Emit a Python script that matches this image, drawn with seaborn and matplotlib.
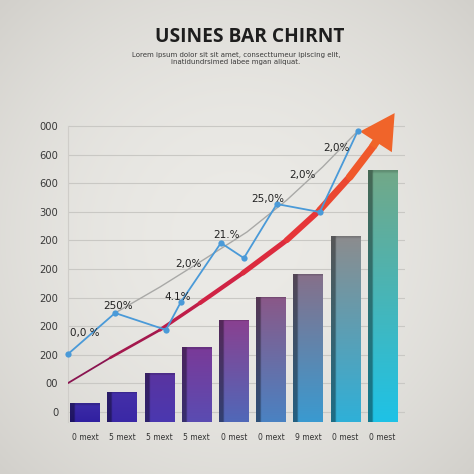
import numpy as np
import pandas as pd
import matplotlib
matplotlib.use("Agg")
import matplotlib.pyplot as plt
import seaborn as sns
from matplotlib.collections import LineCollection
from matplotlib.colors import to_rgb

# ---------------- data ----------------
title = "USINES BAR CHIRNT"
subtitle = ("Lorem ipsum dolor sit sit amet, consecttumeur ipiscing elit,\n"
            "inatidundrsimed labee mgan aliquat.")
x_labels = ["0 mext", "5 mext", "5 mext", "5 mext", "0 mest",
            "0 mext", "9 mext", "0 mest", "0 mest"]
bar_values = [0.66, 1.05, 1.71, 2.62, 3.57, 4.37, 5.17, 6.50, 8.81]
bar_top_colors = ["#3d2ca8", "#4530a8", "#5a34a0", "#7a3a98", "#8a4090",
                  "#8a5888", "#86708a", "#8c8c8e", "#72a888"]
bar_bottom_colors = ["#3020a0", "#3a28a6", "#4a38b0", "#5a4cb2", "#5068b8",
                     "#4a82c2", "#3a9ad0", "#2fb0d8", "#1ec2e6"]

y_tick_labels = ["0", "00", "200", "200", "200", "200", "200",
                 "300", "600", "600", "000"]

line_x = [-0.456, 0.805, 2.174, 2.577, 3.651, 4.268, 5.154, 6.309, 7.329]
line_y = [2.38, 3.81, 3.22, 4.20, 6.26, 5.73, 7.62, 7.34, 10.17]

trend_x = [0.805, 2.013, 3.168, 4.349, 5.423, 6.389, 7.329]
trend_y = [3.81, 4.72, 5.66, 6.64, 7.76, 8.92, 10.17]

arrow_x = [-0.46, 0.671, 2.013, 3.087, 4.242, 5.423, 6.309, 7.114, 7.732]
arrow_y = [1.36, 2.24, 3.22, 4.16, 5.21, 6.36, 7.41, 8.57, 9.62]
arrow_tip = (8.322, 10.80)

pct_labels = ["0,0 %", "250%", "4.1%", "2,0%", "21.%", "25,0%", "2,0%", "2,0%"]
pct_x = [0.0, 0.89, 2.5, 2.77, 3.79, 4.91, 5.83, 6.77]
pct_y = [3.11, 4.06, 4.37, 5.52, 6.54, 7.80, 8.64, 9.58]

# ---------------- figure ----------------
sns.set_theme(style="white")
plt.rcParams["font.family"] = ["DejaVu Sans"]

fig = plt.figure(figsize=(4.74, 4.74), dpi=100)

# vignette background
bg = fig.add_axes([0, 0, 1, 1], zorder=-10)
yy, xx = np.mgrid[-1:1:300j, -1:1:300j]
r = np.sqrt(xx ** 2 + yy ** 2) / np.sqrt(2)
c_center = np.array(to_rgb("#ebeae6"))
c_edge = np.array(to_rgb("#d2d0cb"))
t = np.clip(r, 0, 1) ** 2.0
img = c_center[None, None, :] * (1 - t[..., None]) + c_edge[None, None, :] * t[..., None]
bg.imshow(img, extent=[0, 1, 0, 1], aspect="auto")
bg.axis("off")

ax = fig.add_axes([0.1435, 0.0977, 0.8544 - 0.1435, 0.7795 - 0.0977])
ax.set_facecolor("none")

df = pd.DataFrame({"idx": np.arange(len(bar_values)), "value": bar_values})
sns.barplot(data=df, x="idx", y="value", ax=ax, color="#5050b0",
            width=0.8, linewidth=0, zorder=3)

# gradient fill in each bar
for i, patch in enumerate(ax.patches):
    x0, y0 = patch.get_x(), patch.get_y()
    w, h = patch.get_width(), patch.get_height()
    top = np.array(to_rgb(bar_top_colors[i]))
    bot = np.array(to_rgb(bar_bottom_colors[i]))
    ny, nx = 100, 40
    v = np.linspace(0, 1, ny)[:, None, None]
    grad = bot[None, None, :] * (1 - v) + top[None, None, :] * v
    grad = np.repeat(grad, nx, axis=1)
    side = int(nx * 0.17)
    grad[:, :side, :] *= 0.62
    grad[:, side:side + 1, :] *= 0.85
    top_px = max(1, int(ny * 0.02 / max(h, 0.5) * 4))
    grad[-top_px:, side:, :] = np.clip(grad[-top_px:, side:, :] * 0.85, 0, 1)
    im = ax.imshow(grad, extent=[x0, x0 + w, y0, y0 + h], origin="lower",
                   aspect="auto", zorder=3.1, interpolation="bilinear")
    im.set_clip_path(patch)

# trend (gray) line
sns.lineplot(x=trend_x, y=trend_y, ax=ax, color="#a9a9a7", linewidth=1.0,
             sort=False, zorder=4)

# arrow curve with growing width and colour
pts = np.column_stack([arrow_x, arrow_y])
segs = np.stack([pts[:-1], pts[1:]], axis=1)
n = len(segs)
cmap = matplotlib.colors.LinearSegmentedColormap.from_list(
    "arr", ["#8a1450", "#c81e48", "#e4303a", "#f0582a"])
cols = [cmap(k / (n - 1)) for k in range(n)]
widths = np.linspace(1.3, 5.5, n)
lc = LineCollection(segs, colors=cols, linewidths=widths, capstyle="round",
                    joinstyle="round", zorder=5)
ax.add_collection(lc)
ax.annotate("", xy=arrow_tip, xytext=(arrow_x[-1], arrow_y[-1]),
            arrowprops=dict(arrowstyle="simple,head_length=0.95,head_width=1.05,tail_width=0.22",
                            fc="#f0642a", ec="none", mutation_scale=26,
                            shrinkA=0, shrinkB=0),
            zorder=5)

# blue line
sns.lineplot(x=line_x, y=line_y, ax=ax, color="#4a9ad8", linewidth=1.3,
             marker="o", markersize=4.5, markeredgewidth=0, sort=False,
             zorder=6, clip_on=False)

for lab, px, py in zip(pct_labels, pct_x, pct_y):
    ax.text(px, py, lab, fontsize=7.5, color="#222222", ha="center",
            va="center", zorder=7)

# axes styling
ticks = [0.35 + k for k in range(len(y_tick_labels))]
ax.set_yticks(ticks)
ax.set_yticklabels(y_tick_labels)
ax.set_xticks(range(len(x_labels)))
ax.set_xticklabels(x_labels)
ax.tick_params(axis="y", length=0, pad=7, labelsize=7.2, labelcolor="#3a3a3a")
ax.tick_params(axis="x", length=0, pad=4, labelsize=5.5, labelcolor="#333333")
ax.yaxis.grid(True, color="#c9c8c4", linewidth=0.8, zorder=0)
ax.xaxis.grid(False)
ax.set_axisbelow(True)
for s in ["top", "right", "bottom"]:
    ax.spines[s].set_visible(False)
ax.spines["left"].set_color("#cfcdc9")
ax.spines["left"].set_linewidth(0.8)
ax.spines["left"].set_bounds(0.0, ticks[-1])
ax.set_xlabel("")
ax.set_ylabel("")
ax.set_xlim(-0.46, 8.6)
ax.set_ylim(-0.2, 11.1)

fig.text(0.527, 0.922, title, ha="center", va="center", fontsize=13.8,
         fontweight="bold", color="#1e1e1e", family=["Open Sans", "DejaVu Sans"])
fig.text(0.498, 0.877, subtitle, ha="center", va="center", fontsize=5.0,
         color="#3a3a3a", linespacing=1.3)

fig.savefig("out.png", dpi=100)
